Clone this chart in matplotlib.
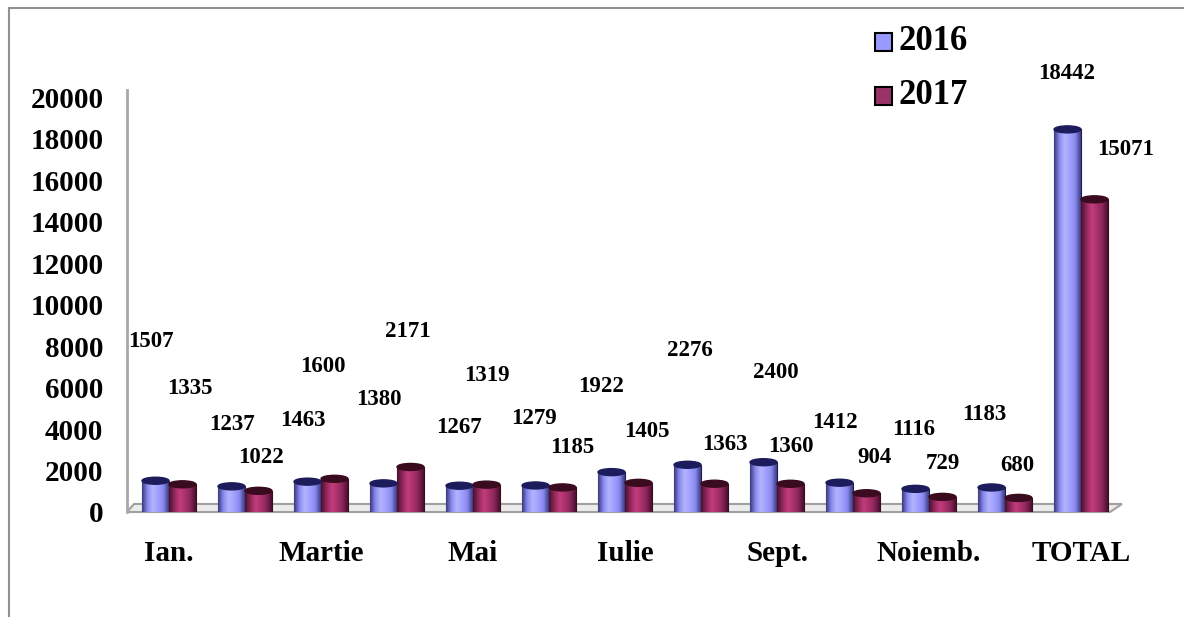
import matplotlib
matplotlib.use("Agg")
import matplotlib.pyplot as plt
import numpy as np
from matplotlib.patches import Rectangle, Ellipse, Polygon
from matplotlib.colors import LinearSegmentedColormap

plt.rcParams["font.family"] = ["Liberation Serif", "DejaVu Serif"]
plt.rcParams["font.weight"] = "bold"

# data
luni = ["Ian.", "Feb.", "Martie", "Apr.", "Mai", "Iunie", "Iulie", "Aug.",
        "Sept.", "Oct.", "Noiemb.", "Dec.", "TOTAL"]
ani = ["2016", "2017"]
v2016 = [1507, 1237, 1463, 1380, 1267, 1279, 1922, 2276, 2400, 1412, 1116, 1183, 18442]
v2017 = [1335, 1022, 1600, 2171, 1319, 1185, 1405, 1363, 1360, 904, 729, 680, 15071]

# label layout (the original labels float at odd heights)
lab_y2016 = [8221, 4230, 4420, 5430, 4090, 4520, 6060, 7790, 6730, 4330, 3990, 4710, 21150]
lab_y2017 = [5960, 2640, 7020, 8700, 6590, 3125, 3900, 3270, 3170, 2640, 2360, 2260, 17450]
lab_dx2016 = [-5, 0, -5, -5, -1, -2, -10, 2, 12, -5, -2, -7, -1]
lab_dx2017 = [7, 3, -12, -3, 0, 10, 8, 10, 0, 8, 0, -1, 31]

W, H = 1184, 617
f = plt.figure(figsize=(W / 100, H / 100), dpi=100)
ax = f.add_axes([127 / W, (H - 512) / H, (1110 - 127) / W, 422 / H])

x = np.arange(len(luni))
bw = 0.355
ymax = 20340
px_x = 76.0          # pixels per category
px_y = 422 / ymax    # pixels per unit

styles = [
    dict(cols=["#3a3a80", "#8c8cf0", "#b4b4ff", "#a0a0ff", "#8a8aee", "#3a3a80"],
         face="#9999ff", cap="#1c1c5c"),
    dict(cols=["#4a1030", "#90285c", "#c43c7c", "#a8326c", "#8a2658", "#4a1030"],
         face="#993366", cap="#3a0a1e"),
]

for k, (vals, off) in enumerate([(v2016, -bw / 2), (v2017, bw / 2)]):
    st = styles[k]
    cmap = LinearSegmentedColormap.from_list("g%d" % k, st["cols"])
    bars = ax.bar(x + off, vals, width=bw, color=st["face"],
                  edgecolor=st["cap"], linewidth=0.8, zorder=2)
    grad = np.linspace(0, 1, 64).reshape(1, -1)
    for b in bars:
        x0, w, h = b.get_x(), b.get_width(), b.get_height()
        im = ax.imshow(grad, cmap=cmap, aspect="auto", extent=(x0, x0 + w, 0, h),
                       zorder=2.1, interpolation="bicubic")
        im.set_clip_path(b)
        ax.add_patch(Ellipse((x0 + w / 2, h), w, 7 / px_y, facecolor=st["cap"],
                             edgecolor=st["cap"], zorder=2.2))

for i in range(len(luni)):
    ax.text(x[i] - bw / 2 + lab_dx2016[i] / px_x, lab_y2016[i], str(v2016[i]),
            ha="center", va="center", fontsize=16.5, clip_on=False, zorder=5)
    ax.text(x[i] + bw / 2 + lab_dx2017[i] / px_x, lab_y2017[i], str(v2017[i]),
            ha="center", va="center", fontsize=16.5, clip_on=False, zorder=5)

ax.set_xlim(-42 / px_x, (1110 - 169) / px_x)
ax.set_ylim(0, ymax)
ax.set_yticks(np.arange(0, 20001, 2000))
ax.set_xticks(x[::2])
ax.set_xticklabels(luni[::2])
ax.tick_params(axis="both", length=0, labelsize=21)
ax.tick_params(axis="y", pad=17)
ax.tick_params(axis="x", pad=20)
for s in ["top", "right", "bottom"]:
    ax.spines[s].set_visible(False)
ax.spines["left"].set_color("#a8a8a8")
ax.spines["left"].set_linewidth(2)

# floor of the 3d chart
pts = [(127, 512), (1110, 512), (1122, 504), (134, 504)]
floor = Polygon([(px / W, 1 - py / H) for px, py in pts], closed=True,
                transform=f.transFigure, facecolor="#ececec", edgecolor="#a0a0a0",
                linewidth=1.5, clip_on=False, zorder=0.5)
ax.add_patch(floor)

# legend
for j, nume in enumerate(ani):
    yc = 42 + j * 54
    f.add_artist(Rectangle((875 / W, 1 - (yc + 9) / H), 17 / W, 18 / H,
                           facecolor=styles[j]["face"], edgecolor="black", lw=1.5,
                           transform=f.transFigure))
    f.text(898 / W, 1 - yc / H, nume, fontsize=25, va="center", ha="left")

# outer frame
f.add_artist(Rectangle((9 / W, -0.1), 1.2, 1.1 - 8 / H, fill=False,
                       edgecolor="#909090", lw=1.5, transform=f.transFigure))

f.savefig("out.png", dpi=100)
